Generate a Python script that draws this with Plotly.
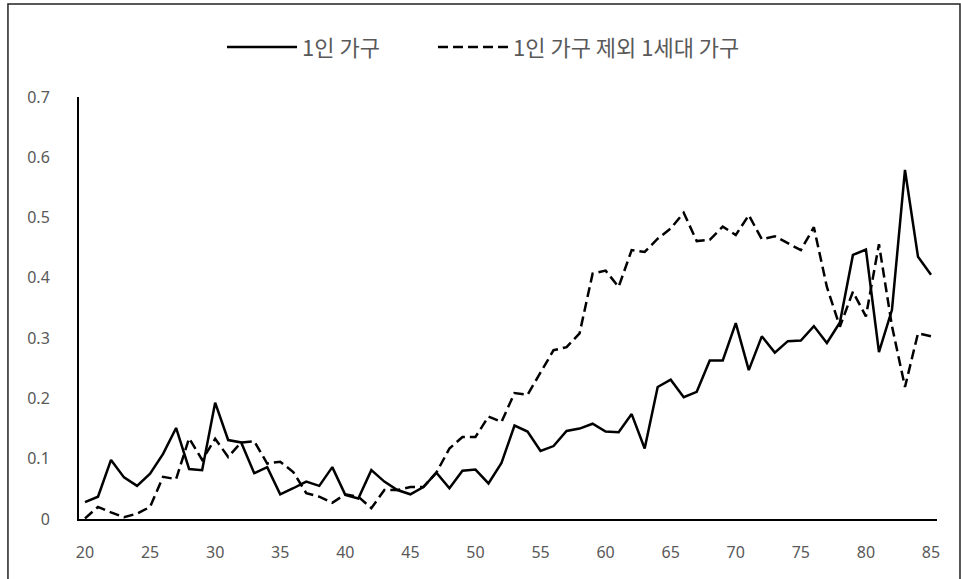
import plotly.graph_objects as go

ages = list(range(20, 86))

single = [0.028, 0.037, 0.098, 0.069, 0.055, 0.075, 0.108, 0.151, 0.083, 0.081,
          0.193, 0.131, 0.127, 0.076, 0.086, 0.041, 0.051, 0.062, 0.055, 0.086,
          0.040, 0.034, 0.081, 0.062, 0.048, 0.041, 0.053, 0.077, 0.051, 0.080,
          0.082, 0.059, 0.093, 0.155, 0.145, 0.113, 0.121, 0.146, 0.150, 0.158,
          0.145, 0.144, 0.174, 0.117, 0.219, 0.231, 0.202, 0.211, 0.263, 0.263,
          0.325, 0.247, 0.303, 0.276, 0.295, 0.296, 0.320, 0.292, 0.326, 0.438,
          0.447, 0.277, 0.347, 0.579, 0.435, 0.405]

one_gen = [0.001, 0.020, 0.011, 0.003, 0.009, 0.020, 0.070, 0.066, 0.134, 0.098,
           0.133, 0.103, 0.127, 0.129, 0.092, 0.095, 0.078, 0.043, 0.037, 0.027,
           0.041, 0.037, 0.018, 0.048, 0.048, 0.053, 0.053, 0.077, 0.117, 0.136,
           0.136, 0.170, 0.161, 0.209, 0.206, 0.244, 0.280, 0.285, 0.308, 0.407,
           0.412, 0.385, 0.446, 0.443, 0.465, 0.482, 0.508, 0.461, 0.463, 0.485,
           0.471, 0.504, 0.464, 0.469, 0.457, 0.446, 0.484, 0.385, 0.319, 0.377,
           0.336, 0.456, 0.320, 0.219, 0.308, 0.303]

series_names = ["1인 가구", "1인 가구 제외 1세대 가구"]
x_ticks = list(range(20, 86, 5))
y_ticks = [0, 0.1, 0.2, 0.3, 0.4, 0.5, 0.6, 0.7]
y_tick_text = ["0", "0.1", "0.2", "0.3", "0.4", "0.5", "0.6", "0.7"]

fig = go.Figure()
fig.add_trace(go.Scatter(x=ages, y=single, mode="lines", name=series_names[0],
                         legendwidth=126,
                         line=dict(color="black", width=2.5)))
fig.add_trace(go.Scatter(x=ages, y=one_gen, mode="lines", name=series_names[1],
                         line=dict(color="black", width=2.5, dash="10px,5px")))

tick_font = dict(family="Noto Sans, Open Sans, sans-serif", size=16, color="#595959")

fig.update_layout(
    width=961, height=579,
    margin=dict(l=79, r=24, t=97, b=60),
    paper_bgcolor="white", plot_bgcolor="white",
    showlegend=True,
    legend=dict(orientation="h", x=0.1667, xanchor="left", y=1.118, yanchor="middle",
                font=dict(family="Noto Sans CJK KR, sans-serif", size=22, color="#595959"),
                itemwidth=70, entrywidthmode="pixels",
                tracegroupgap=0, bgcolor="rgba(0,0,0,0)"),
    xaxis=dict(range=[19.54, 85.46], tickmode="array", tickvals=x_ticks,
               ticktext=[str(v) for v in x_ticks], showgrid=False, zeroline=False,
               showline=True, linecolor="black", linewidth=2, ticks="",
               tickfont=tick_font, ticklabelstandoff=18),
    yaxis=dict(range=[0, 0.7], tickmode="array", tickvals=y_ticks, ticktext=y_tick_text,
               showgrid=False, zeroline=False, showline=True, linecolor="black",
               linewidth=2, ticks="", tickfont=tick_font, ticklabelstandoff=24),
    shapes=[dict(type="rect", xref="paper", yref="paper",
                 x0=-0.0828, x1=1.0268, y0=-0.16, y1=1.2204,
                 line=dict(color="#222222", width=1.5), fillcolor="rgba(0,0,0,0)",
                 layer="above")],
)

fig.write_html("out.html", config={"displayModeBar": False},
               post_script="document.body.style.margin='0';")
